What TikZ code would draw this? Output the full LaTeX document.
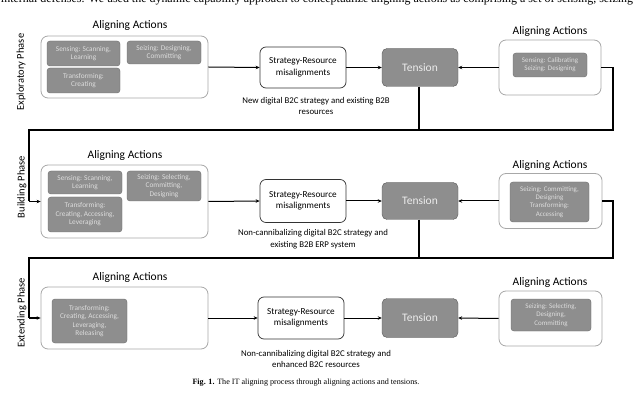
\documentclass[tikz,border=0pt]{standalone}
\usepackage{fontspec}
\setmainfont{Liberation Serif}
\newfontfamily\calib{Carlito}
\usetikzlibrary{arrows.meta}
\definecolor{boxgray}{HTML}{8E8E8E}
\definecolor{boxtext}{HTML}{DDDDDD}
\definecolor{bigborder}{HTML}{A8A8A8}
\tikzset{
  bigbox/.style={draw=bigborder, line width=0.8pt, rounded corners=7pt, fill=white, inner sep=0pt},
  actbox/.style={draw=gray!85!black, line width=0.4pt, fill=boxgray, rounded corners=3pt, inner sep=0pt, text=boxtext, align=center, font=\calib\fontsize{7.3}{8.4}\selectfont},
  srbox/.style={draw=black!80, line width=0.7pt, rounded corners=6pt, fill=white, inner sep=0pt, align=center, font=\calib\fontsize{9.2}{11.5}\selectfont},
  tensbox/.style={draw=gray!70!black, line width=0.4pt, fill=boxgray, rounded corners=5pt, inner sep=0pt, text=white!92!black, font=\calib\fontsize{11.5}{13}\selectfont},
  titletxt/.style={font=\calib\fontsize{11.5}{13}\selectfont},
  phasetxt/.style={font=\calib\fontsize{10.5}{12}\selectfont, rotate=90},
  labeltxt/.style={align=center, font=\calib\fontsize{8.8}{11.5}\selectfont},
  conn/.style={-{Stealth[length=4pt,width=3.5pt]}, line width=1pt, black},
  loopline/.style={line width=1.4pt, black},
}
\begin{document}
\begin{tikzpicture}[x=1pt,y=-1pt]
\useasboundingbox (0,0) rectangle (634,403);
\fill[white] (0,0) rectangle (634,403);
% clipped top text line (cut off at the top edge, as in the source page)
\begin{scope}
\clip (0,0) rectangle (634,5);
\node[anchor=base, inner sep=0pt] (toptext) at (317,2.6) {\resizebox{632pt}{!}{internal defenses. We used the dynamic capability approach to conceptualize aligning actions as comprising a set of sensing, seizing}};
\end{scope}

% phase labels
\node[phasetxt] (ph1) at (21,72) {Exploratory Phase};
\node[phasetxt] (ph2) at (22,187) {Building Phase};
\node[phasetxt] (ph3) at (22,313) {Extending Phase};

% ---------- Row 1 ----------
\node[bigbox, minimum width=167pt, minimum height=62pt] (A1) at (124.5,67) {};
\node[titletxt] (TA1) at (130,25) {Aligning Actions};
\node[actbox, minimum width=73pt, minimum height=25pt] (a1s) at (83.5,53.5) {Sensing: Scanning,\\Learning};
\node[actbox, minimum width=74pt, minimum height=23pt] (a1z) at (164,52.5) {Seizing: Designing,\\Committing};
\node[actbox, minimum width=73pt, minimum height=25pt] (a1t) at (83.5,80.5) {Transforming:\\Creating};
\node[srbox, minimum width=86pt, minimum height=41pt] (SR1) at (303,67.5) {Strategy-Resource\\misalignments};
\node[tensbox, minimum width=76pt, minimum height=38pt] (TN1) at (420,67.5) {Tension};
\node[bigbox, minimum width=102pt, minimum height=55pt] (B1) at (550,67.5) {};
\node[titletxt] (TB1) at (550,31) {Aligning Actions};
\node[actbox, minimum width=74pt, minimum height=24pt, font=\calib\fontsize{7}{7.8}\selectfont] (b1) at (550,65) {Sensing: Calibrating\\Seizing: Designing};
\node[labeltxt] (L1) at (316,106) {New digital B2C strategy and existing B2B\\resources};

\draw[conn] (A1.east) -- (SR1.west);
\draw[conn] (SR1.east) -- (TN1.west);
\draw[conn] (B1.west) -- (TN1.east);

% ---------- Row 2 ----------
\node[bigbox, minimum width=167pt, minimum height=73pt] (A2) at (124.5,201.5) {};
\node[titletxt] (TA2) at (125,155) {Aligning Actions};
\node[actbox, minimum width=74pt, minimum height=23pt] (a2s) at (85,182.5) {Sensing: Scanning,\\Learning};
\node[actbox, minimum width=74pt, minimum height=30pt] (a2z) at (164,186) {Seizing: Selecting,\\Committing,\\Designing};
\node[actbox, minimum width=74pt, minimum height=35pt] (a2t) at (85,214.5) {Transforming:\\Creating, Accessing,\\Leveraging};
\node[srbox, minimum width=86pt, minimum height=43pt] (SR2) at (303,201) {Strategy-Resource\\misalignments};
\node[tensbox, minimum width=76pt, minimum height=37pt] (TN2) at (420,201) {Tension};
\node[bigbox, minimum width=103pt, minimum height=55pt] (B2) at (550.5,201) {};
\node[titletxt] (TB2) at (550,165) {Aligning Actions};
\node[actbox, minimum width=79pt, minimum height=40pt, font=\calib\fontsize{7}{8.3}\selectfont] (b2) at (549.5,202) {Seizing: Committing,\\Designing\\Transforming:\\Accessing};
\node[labeltxt] (L2) at (313,239) {Non-cannibalizing digital B2C strategy and\\existing B2B ERP system};

\draw[conn] (A2.east) -- (SR2.west);
\draw[conn] (SR2.east) -- (TN2.west);
\draw[conn] (B2.west) -- (TN2.east);

% ---------- Row 3 ----------
\node[bigbox, minimum width=167pt, minimum height=62pt] (A3) at (124.5,318) {};
\node[titletxt] (TA3) at (130,277) {Aligning Actions};
\node[actbox, minimum width=75pt, minimum height=44pt] (a3t) at (89.5,321) {Transforming:\\Creating, Accessing,\\Leveraging,\\Releasing};
\node[srbox, minimum width=86pt, minimum height=42pt] (SR3) at (301,318) {Strategy-Resource\\misalignments};
\node[tensbox, minimum width=76pt, minimum height=39pt] (TN3) at (420,318) {Tension};
\node[bigbox, minimum width=103pt, minimum height=55pt] (B3) at (550.5,318.5) {};
\node[titletxt] (TB3) at (550,282) {Aligning Actions};
\node[actbox, minimum width=80pt, minimum height=32pt, font=\calib\fontsize{7}{8.3}\selectfont] (b3) at (551,315) {Seizing: Selecting,\\Designing,\\Committing};
\node[labeltxt] (L3) at (316,359) {Non-cannibalizing digital B2C strategy and\\enhanced B2C resources};

\draw[conn] (A3.east) -- (SR3.west);
\draw[conn] (SR3.east) -- (TN3.west);
\draw[conn] (B3.west) -- (TN3.east);

% ---------- loops between phases ----------
\coordinate (r1a) at (613,67.5);
\coordinate (r1b) at (613,130);
\coordinate (l1b) at (29,130);
\coordinate (t1) at (419,130);
\coordinate (e1) at (29,201.5);
\draw[loopline] (B1.east) -- (r1a) -- (r1b) -- (l1b) -- (e1);
\draw[conn, line width=1.4pt] (e1) -- (A2.west);
\draw[loopline] (TN1.south -| t1) -- (t1);

\coordinate (r2a) at (613,201);
\coordinate (r2b) at (613,258);
\coordinate (l2b) at (29,258);
\coordinate (t2) at (419,258);
\coordinate (e2) at (29,318);
\draw[loopline] (B2.east) -- (r2a) -- (r2b) -- (l2b) -- (e2);
\draw[conn, line width=1.4pt] (e2) -- (A3.west);
\draw[loopline] (TN2.south -| t2) -- (t2);

% caption
\node[font=\fontsize{8.1}{10}\selectfont] (cap) at (306,383) {\textbf{Fig. 1.} The IT aligning process through aligning actions and tensions.};
\end{tikzpicture}
\end{document}
